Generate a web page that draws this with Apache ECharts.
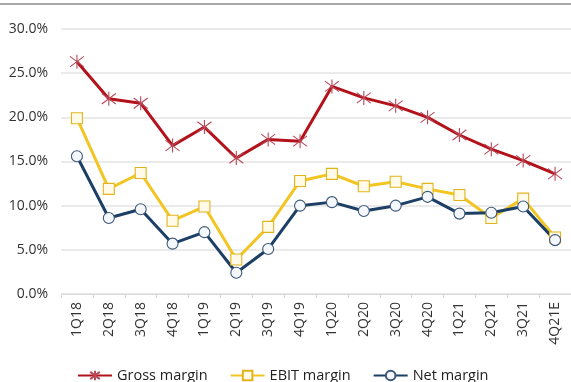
<!DOCTYPE html>
<html>
<head>
<meta charset="utf-8">
<script src="https://cdn.jsdelivr.net/npm/echarts@6/dist/echarts.min.js"></script>
<style>
  html, body { margin: 0; padding: 0; background: #fff; }
  #chart { width: 571px; height: 382px; }
</style>
</head>
<body>
<div id="chart"></div>
<script>
const quarters = ['1Q18', '2Q18', '3Q18', '4Q18', '1Q19', '2Q19', '3Q19', '4Q19',
  '1Q20', '2Q20', '3Q20', '4Q20', '1Q21', '2Q21', '3Q21', '4Q21E']
const grossMargin = [26.3, 22.1, 21.6, 16.8, 18.9, 15.4, 17.5, 17.3, 23.5, 22.2, 21.3, 20.0, 18.0, 16.4, 15.1, 13.6]
const ebitMargin = [19.9, 11.9, 13.7, 8.3, 9.9, 3.9, 7.6, 12.8, 13.6, 12.2, 12.7, 11.9, 11.2, 8.6, 10.8, 6.4]
const netMargin = [15.6, 8.6, 9.6, 5.7, 7.0, 2.4, 5.1, 10.0, 10.4, 9.4, 10.0, 11.0, 9.1, 9.2, 9.9, 6.1]

const font = 'Open Sans, DejaVu Sans, sans-serif'
// asterisk marker: vertical stroke plus an X
const star = 'path://M0,-10L0,10M-7.5,-7.5L7.5,7.5M-7.5,7.5L7.5,-7.5'

const myChart = echarts.init(document.getElementById('chart'))

const option = {
  animation: false,
  textStyle: { fontFamily: font },
  grid: { left: 61, top: 29, width: 512, height: 265 },
  graphic: [
    {
      type: 'line',
      shape: { x1: 0, y1: 4, x2: 571, y2: 4 },
      style: { stroke: '#8a8a8a', lineWidth: 1.5 },
    },
  ],
  legend: {
    bottom: -6,
    left: 72,
    itemGap: 22,
    itemWidth: 34,
    itemHeight: 12,
    textStyle: { fontSize: 14.5, color: '#222', fontFamily: font },
  },
  xAxis: {
    type: 'category',
    data: quarters,
    boundaryGap: true,
    axisLine: { lineStyle: { color: '#d9d9d9' } },
    axisTick: { show: true, length: 4, lineStyle: { color: '#d9d9d9' } },
    axisLabel: { rotate: 90, fontSize: 14, color: '#333', margin: 8 },
  },
  yAxis: {
    type: 'value',
    min: 0,
    max: 30,
    interval: 5,
    axisLine: { show: false },
    axisTick: { show: false },
    axisLabel: {
      fontSize: 14,
      color: '#333',
      margin: 13,
      formatter: (v) => v.toFixed(1) + '%',
    },
    splitLine: { lineStyle: { color: '#e3e3e3', width: 1.5 } },
  },
  series: [
    {
      name: 'Gross margin',
      type: 'line',
      data: grossMargin,
      symbol: star,
      symbolSize: 14,
      lineStyle: { color: '#b3121b', width: 3 },
      itemStyle: { color: '#b3121b', borderColor: '#b84a5a', borderWidth: 1.1 },
    },
    {
      name: 'EBIT margin',
      type: 'line',
      data: ebitMargin,
      symbol: 'rect',
      symbolSize: 11,
      lineStyle: { color: '#f2c523', width: 3 },
      itemStyle: { color: '#fffbe8', borderColor: '#e2b41c', borderWidth: 1.1 },
    },
    {
      name: 'Net margin',
      type: 'line',
      data: netMargin,
      symbol: 'circle',
      symbolSize: 11,
      lineStyle: { color: '#1c3f66', width: 3 },
      itemStyle: { color: '#f4f7fb', borderColor: '#3d5878', borderWidth: 1.1 },
    },
  ],
}

myChart.setOption(option)
</script>
</body>
</html>
